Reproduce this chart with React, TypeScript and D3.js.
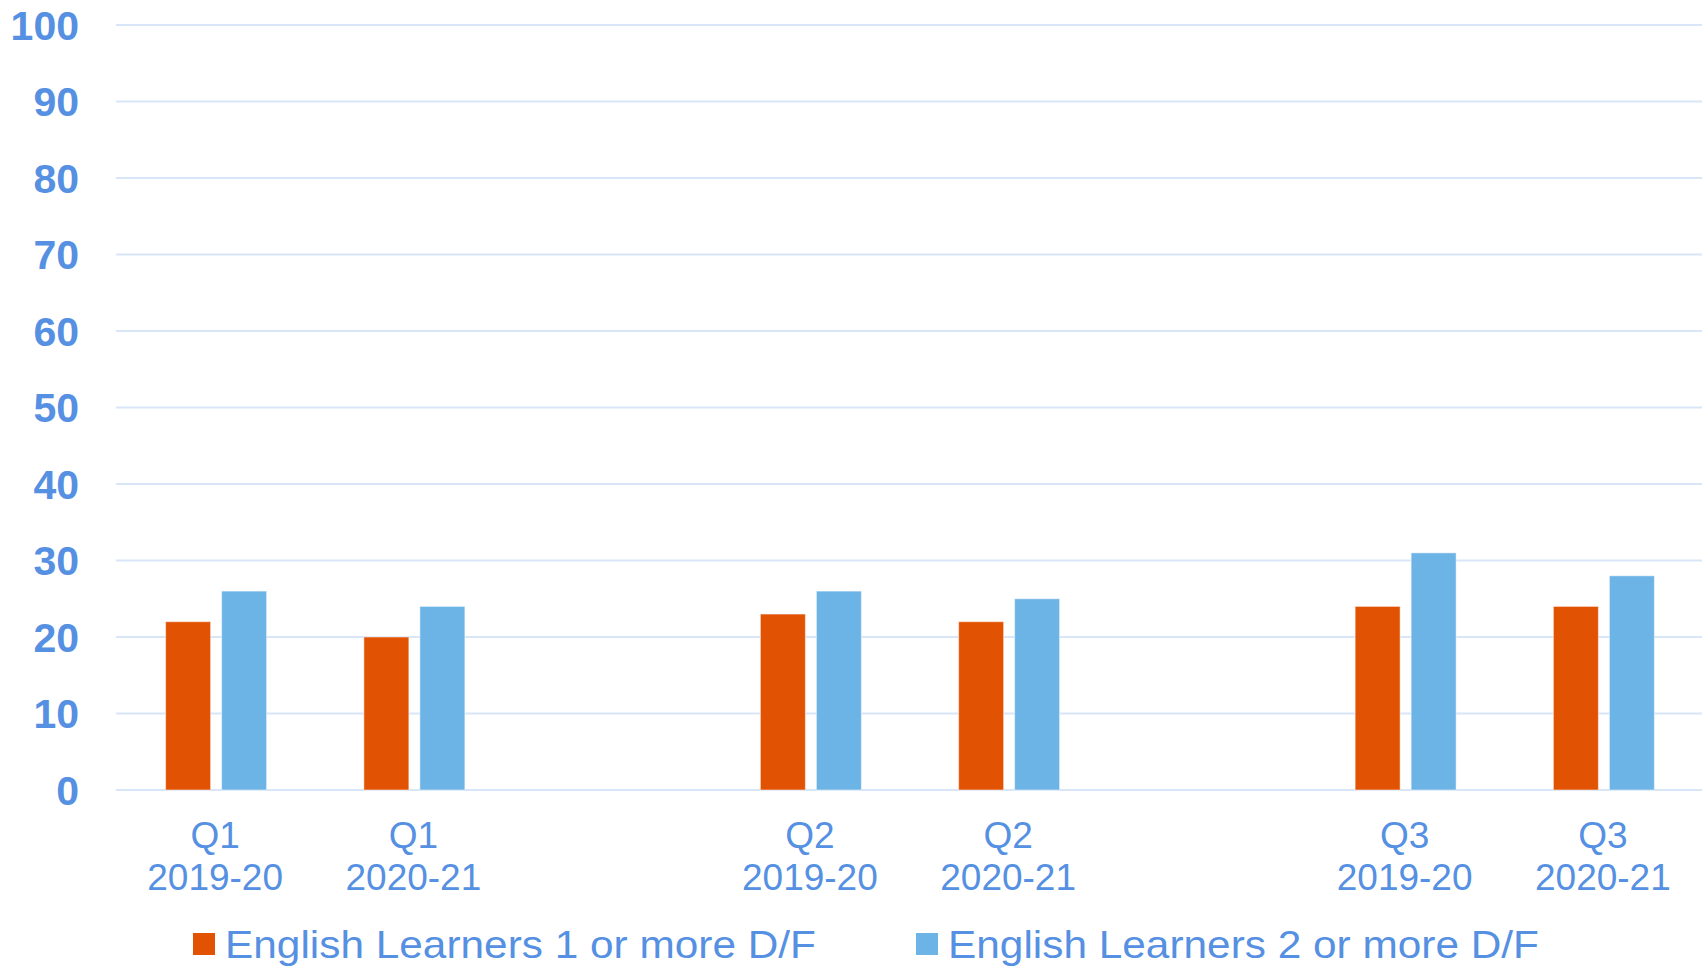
import { useEffect, useRef } from 'react';
import * as d3 from 'd3';

// categories (blank slots separate the quarters)
const categories = ['Q1|2019-20', 'Q1|2020-21', '', 'Q2|2019-20', 'Q2|2020-21', ' ', 'Q3|2019-20', 'Q3|2020-21'];
const oneOrMore = [22, 20, null, 23, 22, null, 24, 24];
const twoOrMore = [26, 24, null, 26, 25, null, 31, 28];
const seriesNames = ['English Learners 1 or more D/F', 'English Learners 2 or more D/F'];
const yTicks = [0, 10, 20, 30, 40, 50, 60, 70, 80, 90, 100];

const ORANGE = '#E25203';
const BLUE = '#6CB3E6';
const TEXT = '#5590E2';
const GRID = '#D9E6F7';

export default function App() {
  const svgRef = useRef<SVGSVGElement>(null);

  useEffect(() => {
    if (!svgRef.current) return;
    const W = 1702, H = 968;
    const margin = { top: 25, right: 0, bottom: 178, left: 116 };
    const width = W - margin.left - margin.right;
    const height = H - margin.top - margin.bottom;

    const svg = d3.select(svgRef.current);
    svg.selectAll('*').remove();
    svg.attr('width', W).attr('height', H);

    const g = svg.append('g').attr('transform', `translate(${margin.left},${margin.top})`);

    const x = d3.scaleBand().domain(categories).range([0, width]).padding(0);
    const y = d3.scaleLinear().domain([0, 100]).range([height, 0]);

    const barW = 45;
    const gap = 11;

    // grid
    g.selectAll('line.grid')
      .data(yTicks)
      .enter().append('line')
      .attr('x1', 0).attr('x2', width)
      .attr('y1', d => y(d)).attr('y2', d => y(d))
      .attr('stroke', GRID).attr('stroke-width', 2);

    // y labels
    g.selectAll('text.ylab')
      .data(yTicks)
      .enter().append('text')
      .attr('x', -37)
      .attr('y', d => y(d))
      .attr('dy', '0.36em')
      .attr('text-anchor', 'end')
      .attr('font-family', 'Liberation Sans, Arial, sans-serif')
      .attr('font-weight', 'bold')
      .attr('font-size', 41)
      .attr('fill', TEXT)
      .text(d => d);

    const series = [
      { values: oneOrMore, color: ORANGE, off: -gap / 2 - barW + 1 },
      { values: twoOrMore, color: BLUE, off: gap / 2 + 1 },
    ];

    series.forEach(s => {
      g.selectAll(null)
        .data(categories.map((c, i) => ({ c, v: s.values[i] })).filter(d => d.v != null))
        .enter().append('rect')
        .attr('x', d => (x(d.c) as number) + x.bandwidth() / 2 + s.off)
        .attr('y', d => y(d.v as number))
        .attr('width', barW)
        .attr('height', d => height - y(d.v as number))
        .attr('fill', s.color)
        .attr('stroke', '#ffffff')
        .attr('stroke-opacity', 0.5)
        .attr('stroke-width', 1);
    });

    // x labels
    const xl = g.selectAll(null)
      .data(categories.filter(c => c.trim() !== ''))
      .enter().append('text')
      .attr('text-anchor', 'middle')
      .attr('font-family', 'Liberation Sans, Arial, sans-serif')
      .attr('font-size', 37)
      .attr('fill', TEXT)
      .attr('transform', d => `translate(${(x(d) as number) + x.bandwidth() / 2},0)`);
    xl.append('tspan').attr('x', 0).attr('y', height + 58).text(d => d.split('|')[0]);
    xl.append('tspan').attr('x', 0).attr('y', height + 100).text(d => d.split('|')[1]);

    // legend (text is stretched wide in the original)
    const legX = [193, 916];
    const legend = svg.append('g')
      .selectAll('g')
      .data(seriesNames)
      .enter().append('g')
      .attr('transform', (d, i) => `translate(${legX[i]},944)`);
    legend.append('rect')
      .attr('x', 0).attr('y', -11)
      .attr('width', 22).attr('height', 22)
      .attr('fill', (d, i) => (i === 0 ? ORANGE : BLUE));
    legend.append('text')
      .attr('x', 32)
      .attr('y', 0)
      .attr('dy', '0.36em')
      .attr('font-family', 'Liberation Sans, Arial, sans-serif')
      .attr('font-size', 39)
      .attr('textLength', 591)
      .attr('lengthAdjust', 'spacingAndGlyphs')
      .attr('fill', TEXT)
      .text(d => d);
  }, []);

  return (
    <svg
      ref={svgRef}
      style={{ position: 'fixed', left: 0, top: 0, background: '#ffffff', display: 'block' }}
    />
  );
}
